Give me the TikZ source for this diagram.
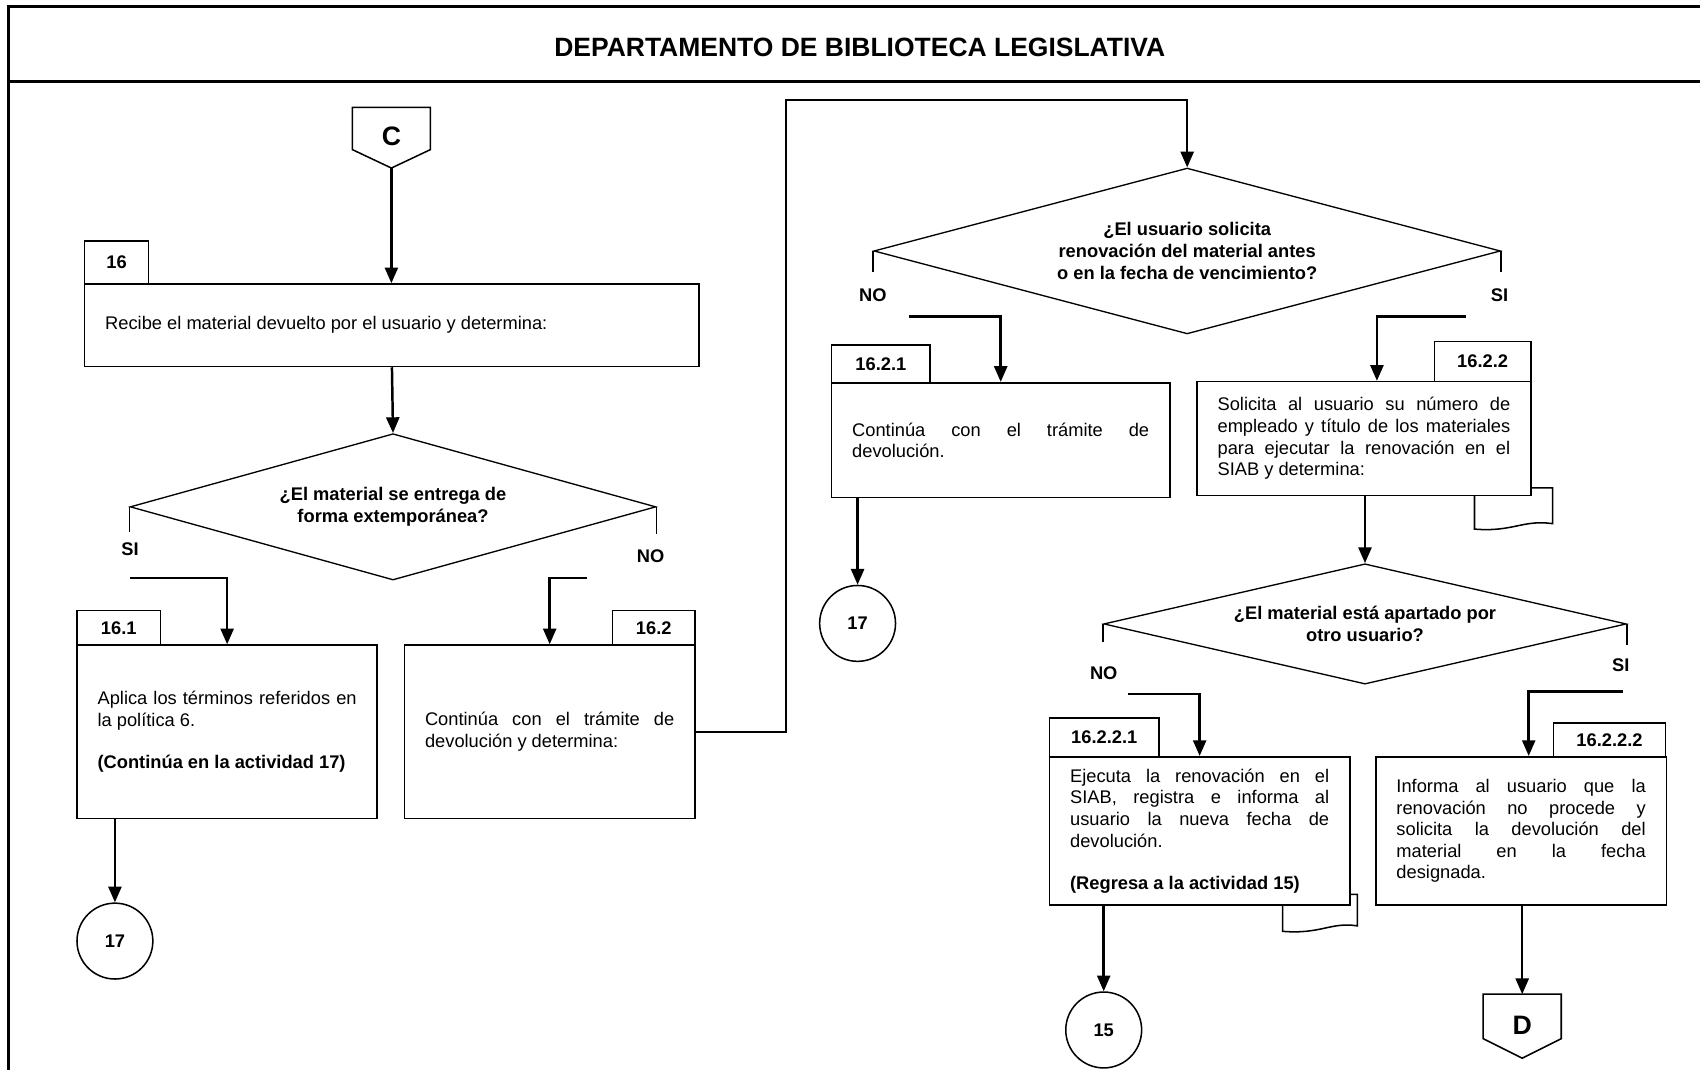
\documentclass[tikz,border=0pt]{standalone}
\usepackage{fontspec}
\setmainfont{Liberation Sans}
\usepackage{tikz}
\usetikzlibrary{arrows.meta,shapes.geometric,calc}

\newcommand\bodytxt{\fontsize{9.6}{11.34}\selectfont}
\newcommand\boldtxt{\fontsize{9.6}{11.34}\selectfont\bfseries}
\newcommand\titletxt{\fontsize{13.9}{16}\selectfont\bfseries}
\newcommand\linktxt{\fontsize{14}{16}\selectfont\bfseries}
\tolerance=10000
\hbadness=10000
\hyphenpenalty=10000

\begin{document}
\begin{tikzpicture}[
		x=0.02cm, y=-0.02cm,
		box/.style={draw,line width=0.85pt,fill=white,inner xsep=0.38cm,inner ysep=0pt,align=justify,font=\bodytxt},
		tab/.style={draw,line width=0.85pt,fill=white,inner sep=0pt,font=\boldtxt},
		decision/.style={diamond,draw,line width=0.7pt,inner sep=0pt,align=center,font=\boldtxt},
		link/.style={circle,draw,line width=0.8pt,inner sep=0pt,minimum size=1.4cm,font=\boldtxt},
		answer/.style={font=\boldtxt},
		tick/.style={line width=0.8pt},
		flow/.style={line width=1.3pt,-{Triangle[length=2.9mm,width=2.4mm]}}
		]
		\useasboundingbox (0,0) rectangle (1568,986);
		\clip (0,0) rectangle (1568,986);
		
		% Frame and heading
		\draw[line width=1.7pt] (8,6) rectangle (1620,1030);
		\draw[line width=1.7pt] (8,75) -- (1620,75);
		\node[font=\titletxt] (title) at (793,44) {DEPARTAMENTO DE BIBLIOTECA LEGISLATIVA};
		
		% Connector C
		\node[font=\linktxt] (conC) at (361,126) {C};
		\draw[line width=0.8pt] (325,138) -- (325,99) -- (397,99) -- (397,138)
		-- (361,155) coordinate (tipC) -- cycle;
		
		% Activity 16
		\node[tab, minimum width=1.18cm, minimum height=0.8cm] (t16) at (107.5,242) {16};
		\node[box, text width=10.58cm, minimum height=1.52cm] (b16) at (361.5,300)
		{Recibe el material devuelto por el usuario y determina:};
		
		\node[decision, aspect=3.6, minimum width=9.7cm, minimum height=2.7cm] (d1) at (362.5,467.5)
		{¿El material se entrega de\\forma extemporánea?};
		
		% Activity 16.1
		\node[tab, minimum width=1.54cm, minimum height=0.64cm] (t161) at (109.5,579) {16.1};
		\node[box, text width=4.78cm, minimum height=3.2cm] (b161) at (209.5,675)
		{Aplica los términos referidos en\linebreak la política 6.\\[10.8pt]
			\textbf{(Continúa en la actividad 17)}};
		\node[link] (c17a) at (106,868) {17};
		
		% Activity 16.2
		\node[tab, minimum width=1.52cm, minimum height=0.64cm] (t162) at (603,579) {16.2};
		\node[box, text width=4.6cm, minimum height=3.2cm] (b162) at (507,675)
		{Continúa con el trámite de\linebreak devolución y determina:};
		
		\node[decision, aspect=3.78, minimum width=11.56cm, minimum height=3.06cm] (d2) at (1095,231.5)
		{¿El usuario solicita\\renovación del material antes\\o en la fecha de vencimiento?};
		
		% Activity 16.2.1
		\node[tab, minimum width=1.82cm, minimum height=0.7cm] (t1621) at (812.5,335.5) {16.2.1};
		\node[box, text width=5.48cm, minimum height=2.12cm] (b1621) at (923,406)
		{Continúa con el trámite de\linebreak devolución.};
		\node[link] (c17b) at (791,575) {17};
		
		% Activity 16.2.2
		\draw[tick] (1412,450) -- (1432,450) -- (1432,483)
		.. controls (1405,479) and (1395,491) .. (1360,488) -- (1360,457);
		\node[tab, minimum width=1.78cm, minimum height=0.74cm] (t1622) at (1367.5,333.5) {16.2.2};
		\node[box, text width=5.4cm, minimum height=2.1cm] (b1622) at (1258,404.5)
		{Solicita al usuario su número de\linebreak empleado y título de los materiales\linebreak
			para ejecutar la renovación en el\linebreak SIAB y determina:};
		
		\node[decision, aspect=4.34, minimum width=9.64cm, minimum height=2.22cm] (d3) at (1259,575.5)
		{¿El material está apartado por\\otro usuario?};
		
		% Activity 16.2.2.1
		\draw[tick] (1245,825) -- (1252,825) -- (1252,854)
		.. controls (1228,850) and (1218,862) .. (1183,859) -- (1183,835);
		\node[tab, minimum width=2.02cm, minimum height=0.72cm] (t16221) at (1018.5,680) {16.2.2.1};
		\node[box, text width=4.78cm, minimum height=2.74cm] (b16221) at (1106.5,766.5)
		{Ejecuta la renovación en el\linebreak SIAB, registra e informa al\linebreak
			usuario la nueva fecha de\linebreak devolución.\\[10.8pt]
			\textbf{(Regresa a la actividad 15)}};
		\node[link] (c15) at (1018,950) {15};
		
		% Activity 16.2.2.2
		\node[tab, minimum width=2.06cm, minimum height=0.62cm] (t16222) at (1484.5,682.5) {16.2.2.2};
		\node[box, text width=4.6cm, minimum height=2.74cm] (b16222) at (1403,766.5)
		{Informa al usuario que la\linebreak renovación no procede y\linebreak
			solicita la devolución del\linebreak material en la fecha\linebreak designada.};
		
		% Connector D
		\node[font=\linktxt] (conD) at (1404,946) {D};
		\draw[line width=0.8pt] (1368,958) -- (1368,917) -- (1440,917) -- (1440,958)
		-- (1404,976) -- cycle;
		\coordinate (topD) at (1404,917);
		
		% Answers
		\draw[tick] (d1.west) -- ++(0,23);
		\draw[tick] (d1.east) -- ++(0,25);
		\node[answer] (si1) at (120,507) {SI};
		\node[answer] (no1) at (600,513) {NO};
		\draw[tick] (d2.west) -- ++(0,19);
		\draw[tick] (d2.east) -- ++(0,19);
		\node[answer] (no2) at (805,272) {NO};
		\node[answer] (si2) at (1383,272) {SI};
		\draw[tick] (d3.west) -- ++(0,17);
		\draw[tick] (d3.east) -- ++(0,19);
		\node[answer] (no3) at (1018,621) {NO};
		\node[answer] (si3) at (1495,614) {SI};
		
		\coordinate (s1) at (120,533);
		\coordinate (n1) at (541,533);
		\coordinate (n2) at (838,292);
		\coordinate (s2) at (1352,292);
		\coordinate (n3) at (1040,640);
		\coordinate (s3) at (1497,638);
		\coordinate (turn) at (725,92);
		
		% Flow
		\draw[flow] (tipC) -- (tipC |- b16.north);
		\draw[flow] (b16.south) -- (d1.north);
		\draw[flow] (s1) -| (b161.north);
		\draw[flow] (n1) -| (b162.north);
		\draw[flow] (c17a |- b161.south) -- (c17a.north);
		\draw[flow] (b162.east) -| (turn) -| (d2.north);
		\draw[flow] (n2) -| (b1621.north);
		\draw[flow] (s2) -| ($(b1622.north)+(12,0)$);
		\draw[flow] (c17b |- b1621.south) -- (c17b.north);
		\draw[flow] (d3.north |- b1622.south) -- (d3.north);
		\draw[flow] (n3) -| (b16221.north);
		\draw[flow] (s3) -| ($(b16222.north)+(7,0)$);
		\draw[flow] (c15 |- b16221.south) -- (c15.north);
		\draw[flow] (topD |- b16222.south) -- (topD);
		\end{tikzpicture}
\end{document}
